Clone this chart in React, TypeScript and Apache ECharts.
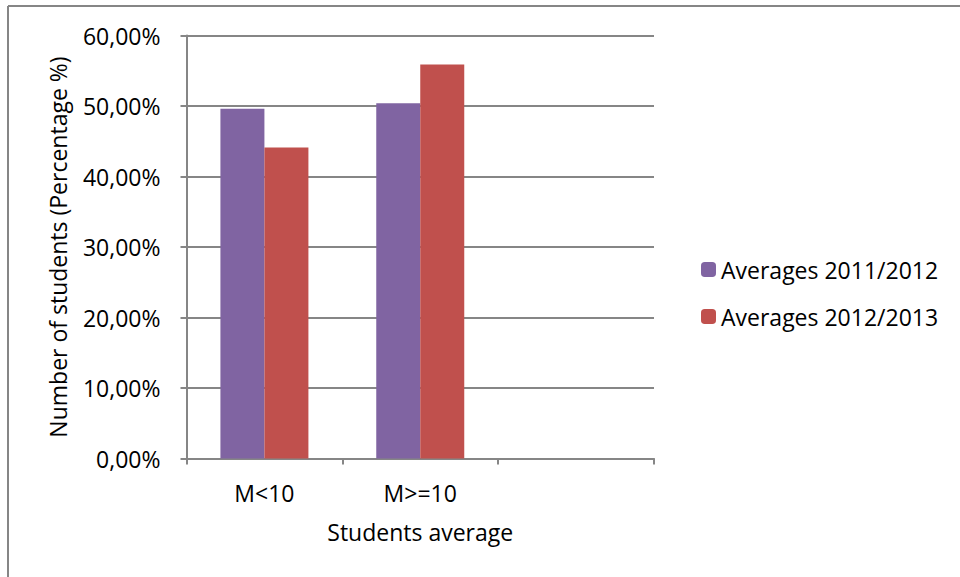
import React, { useEffect, useRef } from "react";
import * as echarts from "echarts";

const categories = ["M<10", "M>=10", ""];
const series2011 = [49.6, 50.4, null];
const series2012 = [44.1, 55.9, null];
const seriesNames = ["Averages 2011/2012", "Averages 2012/2013"];
const yTicks = { min: 0, max: 60, interval: 10 };

const FONT = "Open Sans";
const GRAY = "#868686";
const FS = 23;

export default function App() {
  const ref = useRef<HTMLDivElement>(null);
  useEffect(() => {
    if (!ref.current) return;
    const chart = echarts.init(ref.current, null, { renderer: "svg" });
    chart.setOption({
      animation: false,
      backgroundColor: "#ffffff",
      textStyle: { fontFamily: FONT },
      graphic: [
        { type: "line", shape: { x1: 8, y1: 6, x2: 960, y2: 6 }, style: { stroke: GRAY, lineWidth: 2 } },
        { type: "line", shape: { x1: 8, y1: 6, x2: 8, y2: 577 }, style: { stroke: GRAY, lineWidth: 2 } },
      ],
      grid: { left: 186.5, right: 306, top: 35.5, bottom: 118.5, containLabel: false },
      legend: {
        orient: "vertical",
        left: 696,
        top: 253,
        itemWidth: 15,
        itemHeight: 15,
        itemGap: 24,
        itemStyle: { borderWidth: 0 },
        textStyle: { fontFamily: FONT, fontSize: FS, color: "#000" },
        data: seriesNames,
      },
      xAxis: {
        type: "category",
        data: categories,
        name: "Students average",
        nameLocation: "middle",
        nameGap: 62,
        nameTextStyle: { fontFamily: FONT, fontSize: FS, color: "#000" },
        axisLine: { lineStyle: { color: GRAY, width: 2 } },
        axisTick: { show: true, length: 6, lineStyle: { color: GRAY, width: 2 } },
        axisLabel: { fontFamily: FONT, fontSize: FS, color: "#000", margin: 23 },
      },
      yAxis: {
        type: "value",
        min: yTicks.min,
        max: yTicks.max,
        interval: yTicks.interval,
        name: "Number of students (Percentage %)",
        nameLocation: "middle",
        nameGap: 117,
        nameTextStyle: { fontFamily: FONT, fontSize: FS, color: "#000" },
        axisLine: { show: true, lineStyle: { color: GRAY, width: 2 } },
        axisTick: { show: true, length: 6, lineStyle: { color: GRAY, width: 2 } },
        splitLine: { show: true, lineStyle: { color: GRAY, width: 2 } },
        axisLabel: {
          fontFamily: FONT,
          fontSize: FS,
          color: "#000",
          margin: 26,
          formatter: (v: number) => v.toFixed(2).replace(".", ",") + "%",
        },
      },
      series: [
        {
          name: seriesNames[0],
          type: "bar",
          data: series2011,
          barWidth: 44,
          barGap: "0%",
          itemStyle: { color: "#8064A2" },
        },
        {
          name: seriesNames[1],
          type: "bar",
          data: series2012,
          barWidth: 44,
          barGap: "0%",
          itemStyle: { color: "#C0504D" },
        },
      ],
    });
    return () => chart.dispose();
  }, []);
  return (
    <div
      ref={ref}
      style={{ position: "absolute", left: 0, top: 0, width: 960, height: 577 }}
    />
  );
}
